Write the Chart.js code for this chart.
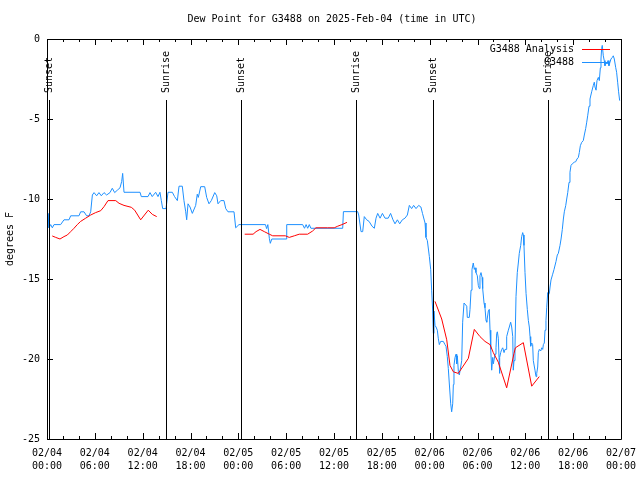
<!DOCTYPE html>
<html><head><meta charset="utf-8">
<script src="https://cdn.jsdelivr.net/npm/chart.js@4.4.1/dist/chart.umd.min.js"></script>
<style>html,body{margin:0;padding:0;background:#fff}</style>
</head><body>
<canvas id="c" width="640" height="480"></canvas>
<script>
// Hours since 02/04 00:00 UTC
const blueTimes = [0.13,0.25,0.46,0.67,0.88,1.71,2.13,2.76,2.97,4.01,4.22,4.64,4.97,5.27,5.48,5.69,5.9,6.23,6.52,6.81,7.15,7.48,7.9,8.19,8.49,8.82,9.16,9.37,9.49,9.66,11.67,11.83,12.67,12.92,13.2,13.63,13.92,14.17,14.34,14.51,14.93,15.18,15.72,16.0,16.35,16.56,16.97,17.18,17.4,17.52,17.69,17.94,18.23,18.65,18.85,18.98,19.28,19.78,20.03,20.32,20.61,21.04,21.29,21.45,21.79,22.2,22.42,22.7,23.46,23.67,24.08,27.4,27.55,27.7,27.89,28.01,28.2,29.98,30.07,32.07,32.3,32.5,32.7,32.9,33.1,37.09,37.18,38.97,39.1,39.39,39.6,39.8,40.1,40.4,40.77,41.06,41.27,41.48,41.78,42.07,42.4,42.8,43.1,43.4,43.65,43.95,44.24,44.57,44.9,45.2,45.45,45.74,45.99,46.29,46.62,46.9,47.1,47.42,47.54,47.71,47.96,48.13,48.25,48.38,48.46,48.54,48.67,48.8,48.96,49.08,49.21,49.38,49.71,49.92,50.05,50.21,50.34,50.46,50.64,50.76,50.89,50.97,51.05,51.18,51.31,51.39,51.47,51.6,51.72,51.89,52.02,52.14,52.31,52.43,52.65,52.72,52.97,53.06,53.19,53.31,53.47,53.6,53.69,53.81,53.98,54.1,54.23,54.31,54.44,54.57,54.65,54.82,54.94,55.07,55.16,55.36,55.48,55.57,55.66,55.78,55.91,55.99,56.2,56.32,56.41,56.49,56.61,56.7,56.74,56.82,56.91,57.04,57.16,57.33,57.45,57.58,57.66,57.87,57.99,58.16,58.29,58.42,58.49,58.58,58.7,58.83,58.99,59.12,59.24,59.42,59.54,59.67,59.75,59.83,59.96,60.09,60.25,60.38,60.5,60.59,60.67,60.8,60.92,61.0,61.21,61.34,61.43,61.55,61.63,61.75,61.93,62.05,62.18,62.26,62.38,62.47,62.59,62.68,62.81,62.89,63.01,63.1,63.22,63.43,63.6,63.72,63.85,64.01,64.14,64.35,64.48,64.64,64.77,64.89,65.07,65.19,65.32,65.48,65.6,65.73,65.89,66.14,66.32,66.48,66.65,66.77,66.9,67.07,67.27,67.4,67.57,67.7,67.82,67.99,68.11,68.32,68.53,68.65,68.74,68.87,68.99,69.16,69.28,69.41,69.49,69.57,69.65,69.78,69.9,69.99,70.12,70.24,70.37,70.49,70.62,70.74,70.91,71.03,71.16,71.33,71.45,71.58,71.7,71.83];
const blueValues = [-10.9,-11.8,-11.6,-11.8,-11.6,-11.6,-11.3,-11.3,-11.05,-11.05,-10.8,-10.8,-11.05,-11.05,-10.8,-9.75,-9.6,-9.8,-9.6,-9.8,-9.6,-9.75,-9.6,-9.33,-9.6,-9.45,-9.3,-8.9,-8.4,-9.58,-9.58,-9.85,-9.85,-9.6,-9.85,-9.58,-9.85,-9.58,-10.1,-10.6,-10.6,-9.58,-9.58,-9.85,-10.1,-9.2,-9.2,-10.1,-10.8,-11.3,-10.3,-10.5,-10.9,-10.4,-9.7,-9.9,-9.23,-9.23,-9.9,-10.3,-10.1,-9.6,-9.8,-10.3,-10.1,-10.1,-10.6,-10.8,-10.8,-11.8,-11.6,-11.6,-11.85,-11.6,-12.46,-12.77,-12.5,-12.5,-11.6,-11.6,-11.83,-11.6,-11.83,-11.6,-11.83,-11.83,-10.79,-10.79,-11.0,-12.04,-12.04,-11.1,-11.3,-11.4,-11.7,-11.83,-11.2,-10.9,-11.2,-10.9,-11.2,-11.2,-10.9,-11.3,-11.55,-11.3,-11.55,-11.3,-11.2,-11.0,-10.4,-10.6,-10.4,-10.6,-10.4,-10.5,-10.9,-11.5,-12.4,-12.6,-13.6,-14.4,-15.7,-17.0,-18.4,-17.0,-17.9,-18.0,-18.2,-18.7,-19.1,-18.9,-18.9,-19.1,-19.2,-19.85,-20.6,-21.5,-22.8,-23.3,-22.8,-21.6,-20.4,-19.9,-19.7,-20.3,-19.8,-20.8,-21.0,-20.5,-20.1,-17.7,-16.5,-16.5,-16.7,-17.4,-17.4,-16.9,-15.7,-14.4,-14.0,-14.4,-14.3,-14.6,-14.8,-15.4,-15.6,-14.8,-14.6,-14.9,-15.6,-16.5,-16.8,-17.6,-17.7,-17.0,-16.9,-18.2,-19.4,-20.7,-19.9,-20.3,-19.7,-19.3,-18.4,-18.3,-18.7,-19.9,-20.9,-19.9,-19.6,-19.4,-19.3,-19.6,-19.4,-19.4,-18.6,-18.2,-18.0,-17.7,-18.0,-18.6,-20.7,-20.1,-19.3,-16.1,-14.6,-14.0,-13.4,-12.9,-12.35,-12.1,-12.25,-12.9,-14.6,-15.9,-16.9,-17.6,-18.0,-18.6,-19.2,-19.0,-19.1,-20.1,-20.7,-21.1,-20.9,-20.5,-19.6,-19.4,-19.5,-19.3,-19.4,-19.1,-19.0,-18.2,-17.6,-16.8,-15.85,-16.0,-15.9,-15.5,-15.06,-14.7,-14.4,-14.4,-13.9,-13.5,-13.4,-12.9,-12.5,-11.9,-11.25,-10.8,-10.4,-10.0,-9.6,-8.96,-8.33,-7.9,-7.8,-7.7,-7.67,-7.5,-7.4,-7.1,-6.67,-6.46,-6.35,-6.0,-5.6,-5.2,-4.8,-4.2,-3.75,-3.3,-2.9,-2.7,-3.0,-3.2,-2.6,-2.4,-2.6,-1.8,-1.25,-0.6,-0.4,-1.05,-1.35,-1.67,-1.45,-1.55,-1.35,-1.67,-1.45,-1.25,-1.15,-1.05,-1.25,-1.77,-2.08,-2.7,-3.3,-3.85];

const redTimes = [0.66,1.09,1.63,2.13,2.55,2.97,3.39,3.8,4.22,4.85,5.48,6.1,6.74,7.15,7.65,8.62,9.04,9.66,10.58,11.0,11.75,12.7,13.21,13.76,19.0,24.8,25.85,26.22,26.72,27.26,27.89,28.31,29.89,30.39,31.02,31.64,32.69,33.32,33.73,35.2,36.03,36.47,37.0,37.63,43.0,48.67,49.51,50.14,50.55,50.97,51.59,52.85,53.6,54.31,54.94,55.57,55.98,56.61,57.66,58.58,58.75,59.75,60.8,61.75];
const redValues = [-12.31,-12.4,-12.5,-12.35,-12.25,-12.04,-11.83,-11.6,-11.4,-11.2,-11.0,-10.85,-10.73,-10.48,-10.1,-10.1,-10.27,-10.4,-10.52,-10.7,-11.3,-10.7,-10.96,-11.1,null,-12.2,-12.2,-12.04,-11.9,-12.04,-12.2,-12.3,-12.3,-12.4,-12.3,-12.2,-12.2,-12.0,-11.8,-11.8,-11.8,-11.7,-11.6,-11.46,null,-16.4,-17.5,-18.8,-20.4,-20.8,-20.9,-19.96,-18.15,-18.6,-18.9,-19.1,-19.6,-20.2,-21.8,-19.65,-19.3,-18.98,-21.7,-21.1];

const sunTimes = [0.2, 14.93, 24.34, 38.76, 48.42, 62.85];
const sunLabels = ['Sunset','Sunrise','Sunset','Sunrise','Sunset','Sunrise'];

const xTickDates = ['02/04','02/04','02/04','02/04','02/05','02/05','02/05','02/05','02/06','02/06','02/06','02/06','02/07'];
const xTickTimes = ['00:00','06:00','12:00','18:00','00:00','06:00','12:00','18:00','00:00','06:00','12:00','18:00','00:00'];
const yTickValues = [0,-5,-10,-15,-20,-25];

const titleText = 'Dew Point for G3488 on 2025-Feb-04 (time in UTC)';
const seriesNames = ['G3488 Analysis','G3488'];
const seriesColors = ['#ff0000','#1e90ff'];

const FONT = '"DejaVu Sans Mono", "Liberation Mono", monospace';

const framePlugin = {
  id: 'frame',
  afterDatasetsDraw(chart) {
    const ctx = chart.ctx, a = chart.chartArea;
    const xs = chart.scales.x, ys = chart.scales.y;
    ctx.save();
    ctx.strokeStyle = '#000';
    ctx.lineWidth = 1;
    ctx.font = '10px ' + FONT;
    ctx.fillStyle = '#000';
    // title
    ctx.textAlign = 'center';
    ctx.textBaseline = 'middle';
    ctx.fillText(titleText, (a.left + a.right) / 2 - 2, 19);
    // sun lines + labels
    sunTimes.forEach((t, i) => {
      const px = Math.round(xs.getPixelForValue(t)) + 0.5;
      ctx.beginPath();
      ctx.moveTo(px, 100);
      ctx.lineTo(px, a.bottom);
      ctx.stroke();
      ctx.save();
      ctx.translate(px, 93);
      ctx.rotate(-Math.PI / 2);
      ctx.textAlign = 'left';
      ctx.textBaseline = 'middle';
      ctx.fillText(sunLabels[i], 0, 0);
      ctx.restore();
    });
    // border
    ctx.beginPath();
    ctx.rect(Math.round(a.left) + 0.5, Math.round(a.top) + 0.5, Math.round(a.right - a.left), Math.round(a.bottom - a.top));
    ctx.stroke();
    // ticks
    ctx.beginPath();
    for (let h = 0; h <= 72; h += 2) {
      const px = Math.round(xs.getPixelForValue(h)) + 0.5;
      const len = (h % 6 === 0) ? 6 : 3;
      ctx.moveTo(px, a.bottom); ctx.lineTo(px, a.bottom - len);
      ctx.moveTo(px, a.top); ctx.lineTo(px, a.top + len);
    }
    yTickValues.forEach(v => {
      const py = Math.round(ys.getPixelForValue(v)) + 0.5;
      ctx.moveTo(a.left, py); ctx.lineTo(a.left + 6, py);
      ctx.moveTo(a.right, py); ctx.lineTo(a.right - 6, py);
    });
    ctx.stroke();
    // legend
    ctx.textAlign = 'right';
    ctx.textBaseline = 'middle';
    const ly = [49, 62];
    seriesNames.forEach((n, i) => {
      ctx.fillStyle = '#000';
      ctx.fillText(n, 574, ly[i]);
      ctx.strokeStyle = seriesColors[i];
      ctx.beginPath();
      ctx.moveTo(582, ly[i] + 0.5);
      ctx.lineTo(610, ly[i] + 0.5);
      ctx.stroke();
    });
    ctx.restore();
  }
};

new Chart(document.getElementById('c'), {
  type: 'line',
  data: {
    datasets: [
      {
        label: seriesNames[0],
        data: redTimes.map((t, i) => ({x: t, y: redValues[i]})),
        borderColor: seriesColors[0], borderWidth: 1, pointRadius: 0, tension: 0, spanGaps: false, fill: false
      },
      {
        label: seriesNames[1],
        data: blueTimes.map((t, i) => ({x: t, y: blueValues[i]})),
        borderColor: seriesColors[1], borderWidth: 1, pointRadius: 0, tension: 0, fill: false
      }
    ]
  },
  options: {
    responsive: false,
    animation: false,
    devicePixelRatio: 1,
    layout: {padding: {left: 0, right: 19, top: 39, bottom: 0}},
    plugins: {
      legend: {display: false},
      tooltip: {enabled: false},
      title: {display: false}
    },
    scales: {
      x: {
        type: 'linear', min: 0, max: 72,
        grid: {display: false, drawTicks: false, tickLength: 0},
        border: {display: false},
        ticks: {
          stepSize: 6, autoSkip: false, maxRotation: 0, minRotation: 0,
          color: '#000', padding: 8,
          font: {family: FONT, size: 10, lineHeight: 1.3},
          callback: (v) => { const i = Math.round(v / 6); return [xTickDates[i], xTickTimes[i]]; }
        },
        afterFit: (s) => { s.height = 41; s.paddingLeft = 0; s.paddingRight = 0; }
      },
      y: {
        min: -25, max: 0,
        grid: {display: false, drawTicks: false, tickLength: 0},
        border: {display: false},
        ticks: {
          stepSize: 5, color: '#000', padding: 7,
          font: {family: FONT, size: 10},
          callback: (v) => String(v)
        },
        title: {display: true, text: 'degrees F', color: '#000', font: {family: FONT, size: 10}, padding: {top: 4, bottom: 0}},
        afterFit: (s) => { s.width = 47; s.paddingTop = 0; s.paddingBottom = 0; }
      }
    }
  },
  plugins: [framePlugin]
});
</script>
</body></html>
